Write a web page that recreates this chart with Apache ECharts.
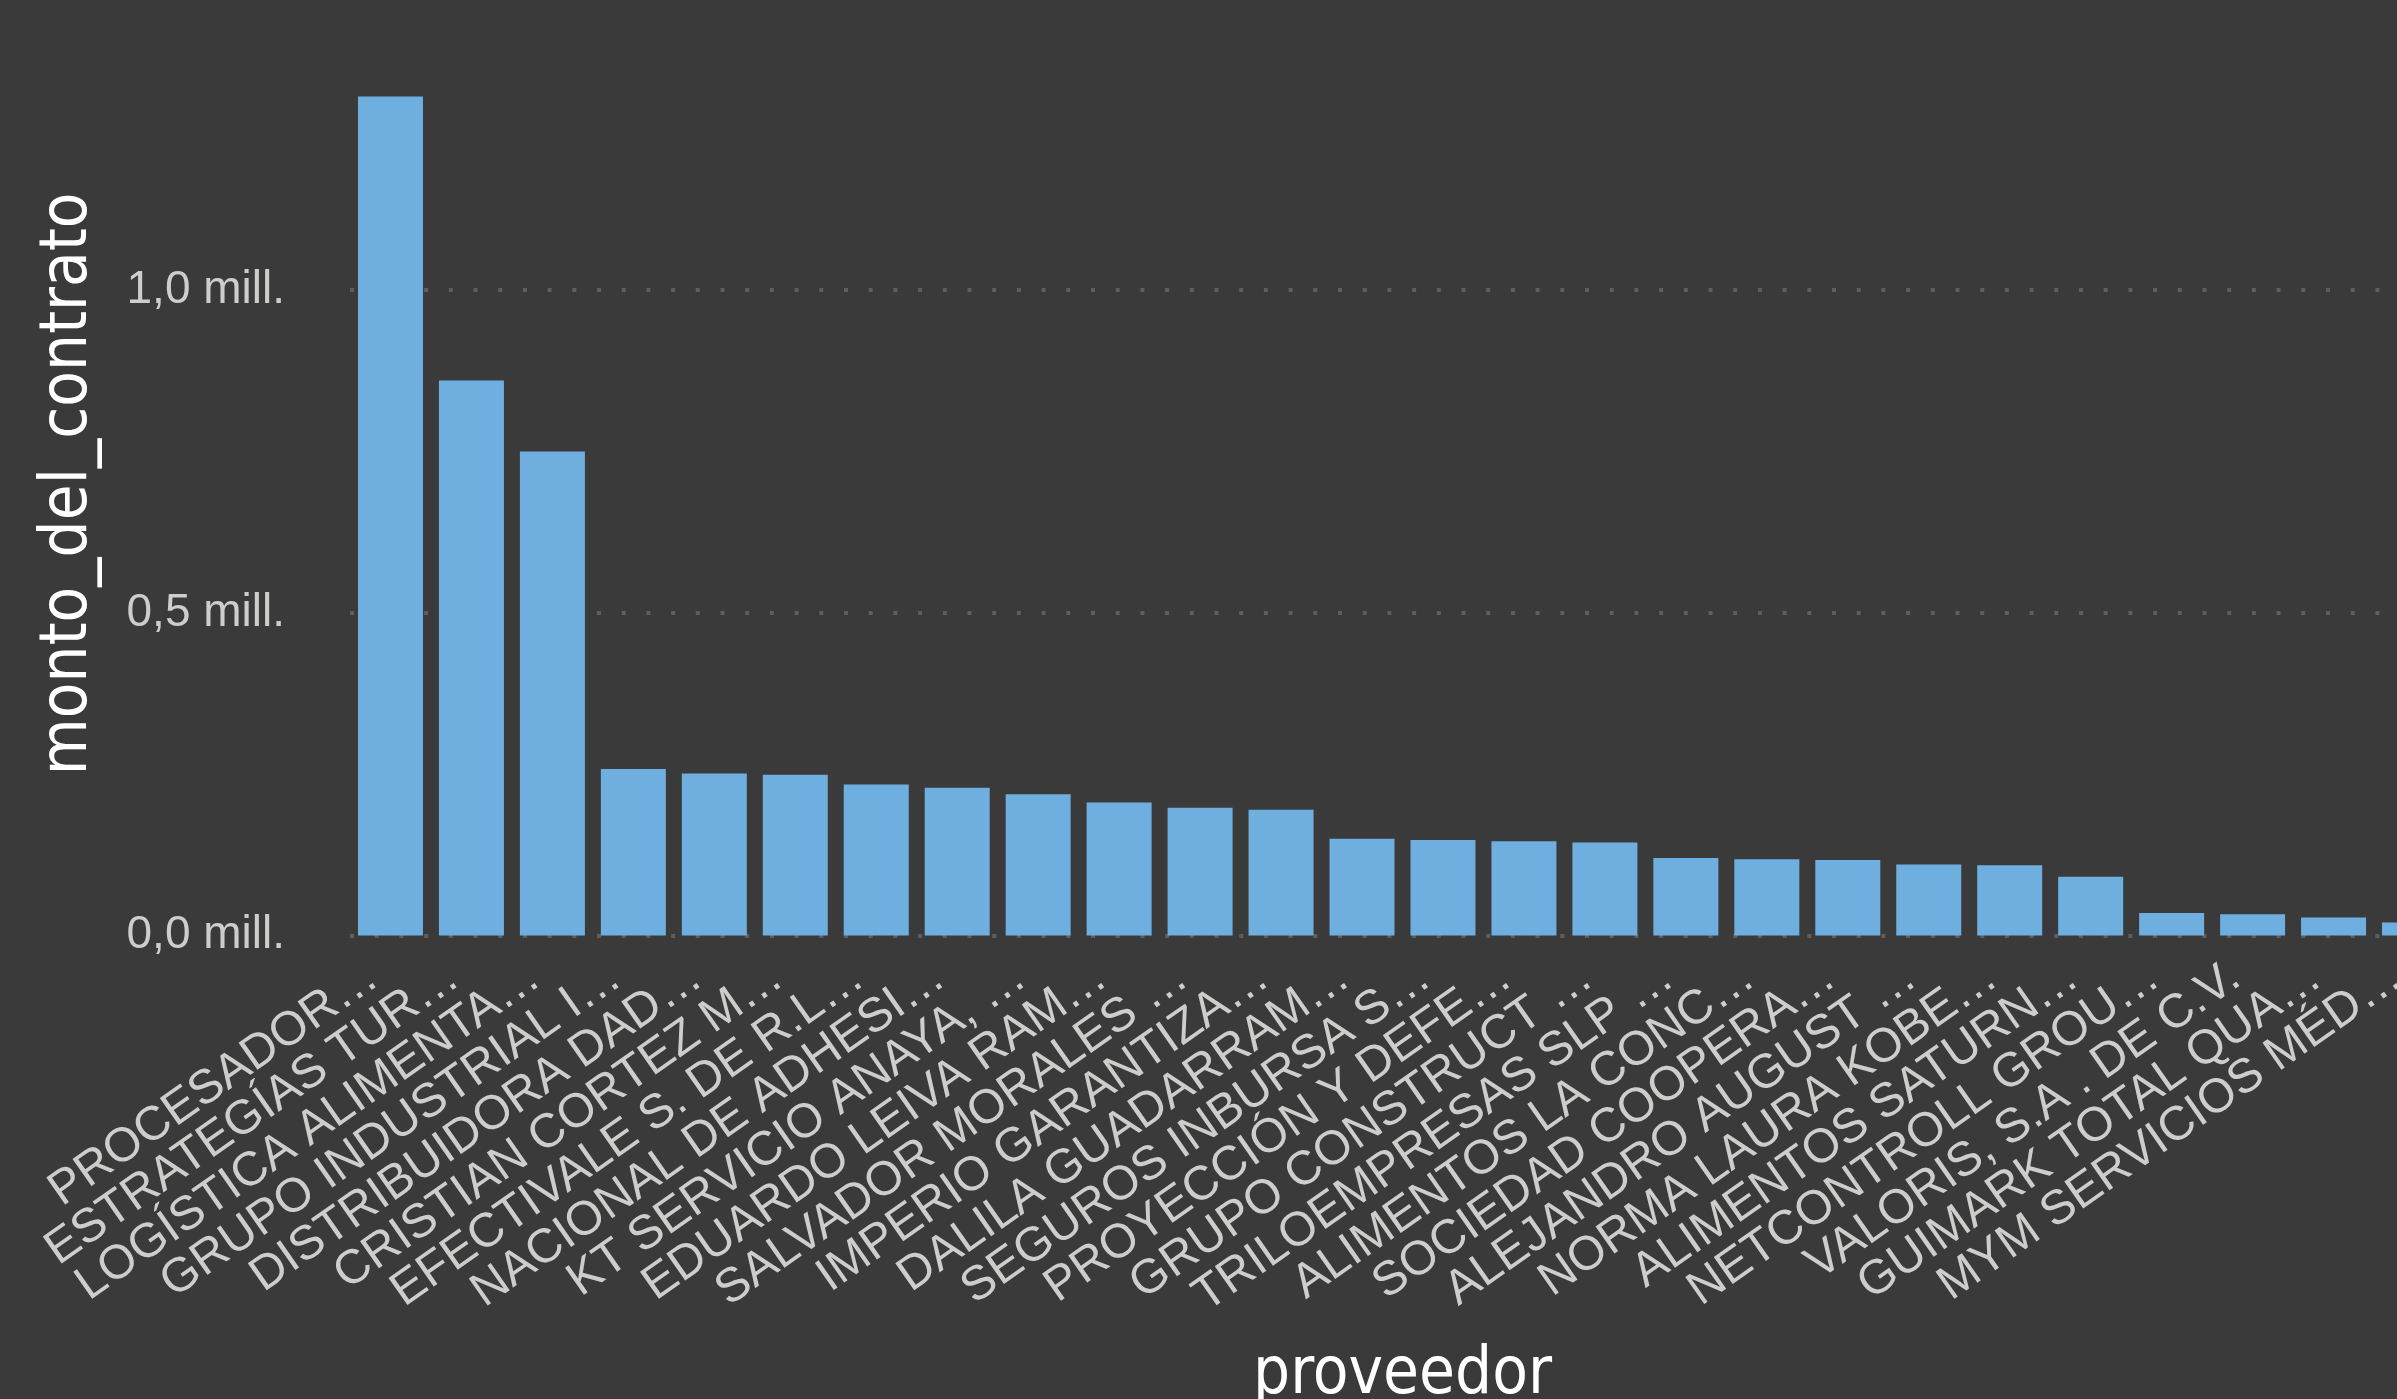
<!DOCTYPE html>
<html>
<head>
<meta charset="utf-8">
<script src="https://cdn.jsdelivr.net/npm/echarts@6/dist/echarts.min.js"></script>
<style>
html,body{margin:0;padding:0;background:#3a3a3a;}
#c{width:2397px;height:1399px;}
</style>
</head>
<body>
<div id="c"></div>
<script>
const categories = [
  "PROCESADOR…", "ESTRATEGÍAS TUR…", "LOGÍSTICA ALIMENTA…", "GRUPO INDUSTRIAL I…",
  "DISTRIBUIDORA DAD…", "CRISTIAN CORTEZ M…", "EFECTIVALE S. DE R.L…", "NACIONAL DE ADHESI…",
  "KT SERVICIO ANAYA, …", "EDUARDO LEIVA RAM…", "SALVADOR MORALES …", "IMPERIO GARANTIZA…",
  "DALILA GUADARRAM…", "SEGUROS INBURSA S…", "PROYECCIÓN Y DEFE…", "GRUPO CONSTRUCT …",
  "TRILOEMPRESAS SLP …", "ALIMENTOS LA CONC…", "SOCIEDAD COOPERA…", "ALEJANDRO AUGUST …",
  "NORMA LAURA KOBE…", "ALIMENTOS SATURN…", "NETCONTROLL GROU…", "VALORIS, S.A . DE C.V.",
  "GUIMARK TOTAL QUA…", "MYM SERVICIOS MÉD…"
];
const montoDelContrato = [
  1300000, 860000, 750000, 258000,
  251000, 249000, 234000, 229000,
  219000, 206000, 198000, 195000,
  150000, 148000, 146000, 144000,
  120000, 118000, 117000, 110000,
  109000, 91000, 35000, 33000,
  28000, 20000
];
const yTicks = [0, 500000, 1000000];

const titleFont = '"DejaVu Sans Condensed", "Liberation Sans", sans-serif';
const tickFont = '"Liberation Sans", Arial, sans-serif';

const chart = echarts.init(document.getElementById('c'));
chart.setOption({
  backgroundColor: '#3a3a3a',
  animation: false,
  grid: { left: 350, top: 32, width: 2105, bottom: 463.5, containLabel: false, outerBoundsMode: 'none' },
  xAxis: {
    type: 'category',
    data: categories,
    name: 'proveedor',
    nameLocation: 'middle',
    nameGap: 408,
    nameTextStyle: { color: '#ffffff', fontSize: 65, fontFamily: titleFont },
    axisLine: { show: false },
    axisTick: { show: false },
    axisLabel: {
      rotate: 35,
      interval: 0,
      margin: 25,
      padding: [0, 21, 0, 0],
      color: '#cdcdcb',
      fontSize: 48,
      fontFamily: tickFont,
      hideOverlap: false
    },
    splitLine: { show: false }
  },
  yAxis: {
    type: 'value',
    min: yTicks[0],
    max: 1400000,
    interval: yTicks[1] - yTicks[0],
    name: 'monto_del_contrato',
    nameLocation: 'middle',
    nameGap: 248,
    nameTextStyle: { color: '#ffffff', fontSize: 65, fontFamily: titleFont },
    axisLine: { show: false },
    axisTick: { show: false },
    axisLabel: {
      margin: 65,
      color: '#cdcdcb',
      fontSize: 46,
      fontFamily: tickFont,
      showMaxLabel: false,
      formatter: v => (v / 1e6).toFixed(1).replace('.', ',') + ' mill.'
    },
    splitLine: {
      show: true,
      showMaxLine: false,
      lineStyle: { color: '#5e5e5e', width: 4, type: [4, 20.7] }
    }
  },
  series: [{
    type: 'bar',
    data: montoDelContrato,
    barWidth: 65,
    itemStyle: { color: '#6eafe0' }
  }]
});
</script>
</body>
</html>
